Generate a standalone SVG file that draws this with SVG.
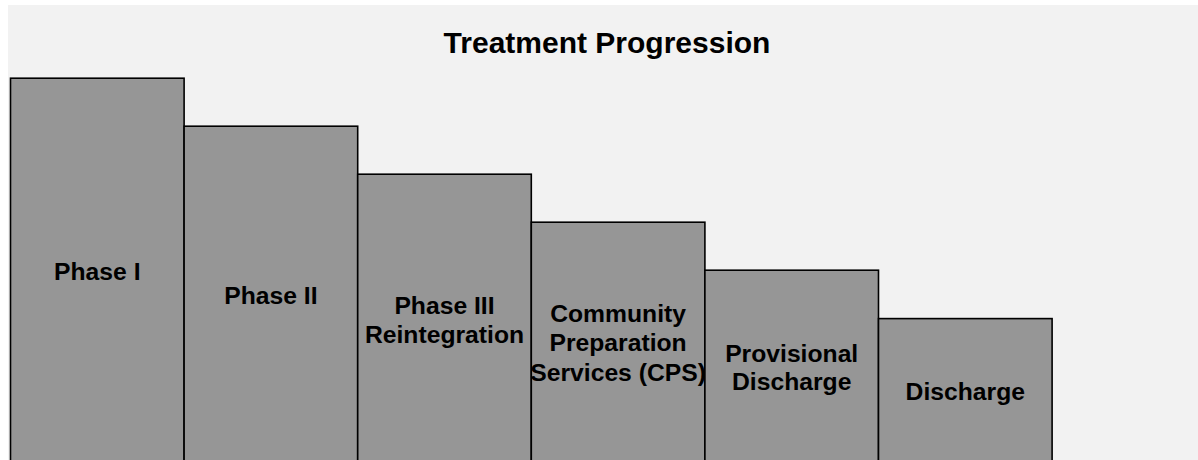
<svg xmlns="http://www.w3.org/2000/svg" width="1198" height="460" viewBox="0 0 1198 460">
<style>
.bar{fill:#969696;stroke:#000;stroke-width:1.6}
.lbl{font-family:"Liberation Sans",Arial,sans-serif;font-weight:bold;font-size:24.7px;fill:#000;text-anchor:middle}
.title{font-family:"Liberation Sans",Arial,sans-serif;font-weight:bold;font-size:30px;fill:#000;text-anchor:middle}
</style>
<rect x="0" y="0" width="1198" height="460" fill="#ffffff"/>
<rect x="8" y="5" width="1190" height="455" fill="#f2f2f2"/>
<text class="title" x="607" y="53.3">Treatment Progression</text>
<g id="phase1">
<rect class="bar" x="10.5" y="78.2" width="173.6" height="390"/>
<text class="lbl" x="97.3" y="280">Phase I</text>
</g>
<g id="phase2">
<rect class="bar" x="184.1" y="126.2" width="173.6" height="340"/>
<text class="lbl" x="270.9" y="304">Phase II</text>
</g>
<g id="phase3">
<rect class="bar" x="357.7" y="174.2" width="173.6" height="300"/>
<text class="lbl" x="444.5" y="314"><tspan x="444.5">Phase III</tspan><tspan x="444.5" dy="28.6">Reintegration</tspan></text>
</g>
<g id="cps">
<rect class="bar" x="531.3" y="222.2" width="173.6" height="250"/>
<text class="lbl" x="618.1" y="322"><tspan x="618.1">Community</tspan><tspan x="618.1" dy="29.4">Preparation</tspan><tspan x="618.1" dy="29.4">Services (CPS)</tspan></text>
</g>
<g id="provisional">
<rect class="bar" x="704.9" y="270.2" width="173.6" height="200"/>
<text class="lbl" x="791.7" y="362.3"><tspan x="791.7">Provisional</tspan><tspan x="791.7" dy="28">Discharge</tspan></text>
</g>
<g id="discharge">
<rect class="bar" x="878.5" y="318.6" width="173.6" height="150"/>
<text class="lbl" x="965.3" y="400">Discharge</text>
</g>
<g id="connectors"></g>
</svg>
